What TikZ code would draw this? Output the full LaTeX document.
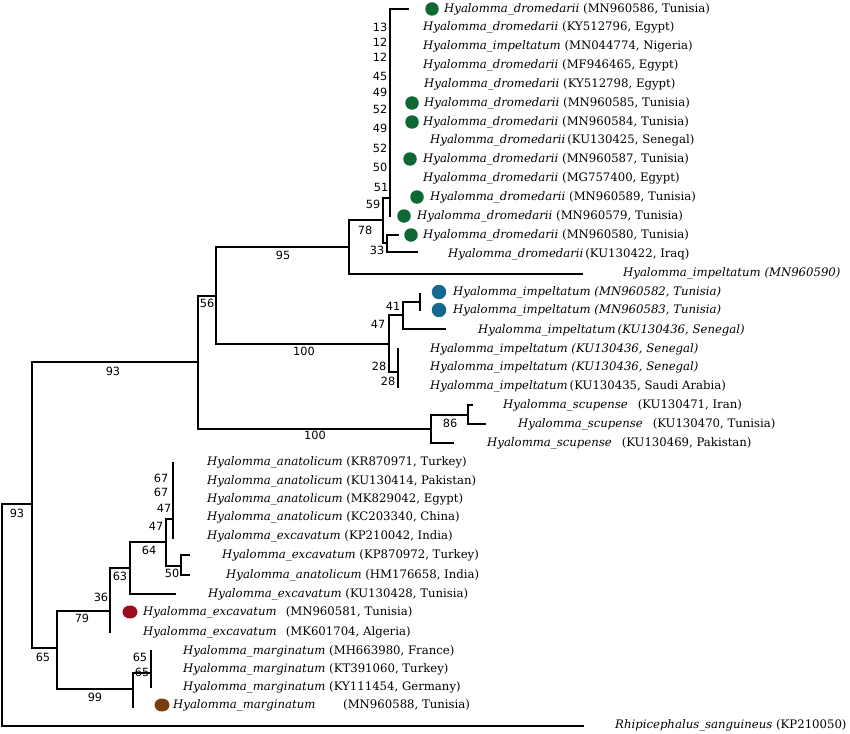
\documentclass[tikz,border=0pt]{standalone}
\usepackage{fontspec}
\setmainfont{DejaVu Serif}
\newfontfamily\numfont{DejaVu Sans}
\definecolor{dgreen}{RGB}{14,104,52}
\definecolor{dblue}{RGB}{22,104,143}
\definecolor{dred}{RGB}{155,12,30}
\definecolor{dbrown}{RGB}{120,62,14}
\tikzset{
  br/.style={line width=1.9pt, line join=miter, line cap=rect},
  leaf/.style={anchor=west, inner sep=0pt, font=\fontsize{11.7}{14}\selectfont},
  bs/.style={inner sep=0pt, font=\numfont\fontsize{11.3}{13}\selectfont},
  gdot/.style={fill=dgreen, circle, minimum size=13.5pt, inner sep=0pt},
  bdot/.style={fill=dblue, circle, minimum size=14.5pt, inner sep=0pt},
  edot/.style={ellipse, minimum width=15pt, minimum height=13pt, inner sep=0pt},
}
\usetikzlibrary{shapes.geometric}
\begin{document}
\begin{tikzpicture}[x=1pt,y=-1pt]
\useasboundingbox (0,0) rectangle (850,733);
% ---- tree coordinates
\coordinate (R) at (2,615);
\coordinate (A) at (32,504);
\coordinate (OG) at (583,726);
\coordinate (B) at (198,362);
\coordinate (L) at (57,648);
\coordinate (C) at (216,296);
\coordinate (S) at (431,429);
\coordinate (D) at (349,247);
\coordinate (I) at (389,344);
\coordinate (N59) at (383,220);
\coordinate (E15) at (582,274);
\coordinate (P) at (390,198);
\coordinate (N33) at (387,243);
\coordinate (E1) at (408,9);
\coordinate (E12) at (390,216);
\coordinate (E13) at (398,235);
\coordinate (E14) at (417,252);
\coordinate (N41) at (403,315);
\coordinate (N28) at (398,372);
\coordinate (P2) at (420,302);
\coordinate (E18) at (445,329);
\coordinate (E16) at (420,294);
\coordinate (E17) at (420,310);
\coordinate (E19) at (398,349);
\coordinate (E21) at (398,387);
\coordinate (N86) at (468,415);
\coordinate (E24) at (453,443);
\coordinate (E22) at (472,405);
\coordinate (E23) at (485,424);
\coordinate (N79) at (110,611);
\coordinate (M) at (133,689);
\coordinate (N63) at (130,568);
\coordinate (E34) at (110,632);
\coordinate (N64) at (166,542);
\coordinate (E32) at (175,594);
\coordinate (P3) at (173,519);
\coordinate (N50) at (181,566);
\coordinate (E25) at (173,463);
\coordinate (E29) at (173,538);
\coordinate (E30) at (189,555);
\coordinate (E31) at (189,575);
\coordinate (P4) at (151,673);
\coordinate (E38) at (133,707);
\coordinate (E35) at (151,651);
\coordinate (E37) at (151,687);
% ---- branches
\draw[br] (R) |- (A);   \draw[br] (R) |- (OG);
\draw[br] (A) |- (B);   \draw[br] (A) |- (L);
\draw[br] (B) |- (C);   \draw[br] (B) |- (S);
\draw[br] (C) |- (D);   \draw[br] (C) |- (I);
\draw[br] (D) |- (N59); \draw[br] (D) |- (E15);
\draw[br] (N59) |- (P); \draw[br] (N59) |- (N33);
\draw[br] (P) |- (E1);  \draw[br] (P) |- (E12);
\draw[br] (N33) |- (E13); \draw[br] (N33) |- (E14);
\draw[br] (I) |- (N41); \draw[br] (I) |- (N28);
\draw[br] (N41) |- (P2); \draw[br] (N41) |- (E18);
\draw[br] (P2) |- (E16); \draw[br] (P2) |- (E17);
\draw[br] (N28) |- (E19); \draw[br] (N28) |- (E21);
\draw[br] (S) |- (N86); \draw[br] (S) |- (E24);
\draw[br] (N86) |- (E22); \draw[br] (N86) |- (E23);
\draw[br] (L) |- (N79); \draw[br] (L) |- (M);
\draw[br] (N79) |- (N63); \draw[br] (N79) |- (E34);
\draw[br] (N63) |- (N64); \draw[br] (N63) |- (E32);
\draw[br] (N64) |- (P3); \draw[br] (N64) |- (N50);
\draw[br] (P3) |- (E25); \draw[br] (P3) |- (E29);
\draw[br] (N50) |- (E30); \draw[br] (N50) |- (E31);
\draw[br] (M) |- (P4); \draw[br] (M) |- (E38);
\draw[br] (P4) |- (E35); \draw[br] (P4) |- (E37);
% ---- dots
\node[gdot] (d1) at (432,9) {};
\node[gdot] (d6) at (412,103) {};
\node[gdot] (d7) at (412,122) {};
\node[gdot] (d9) at (410,159) {};
\node[gdot] (d11) at (417,197) {};
\node[gdot] (d12) at (404,216) {};
\node[gdot] (d13) at (411,235) {};
\node[bdot] (d16) at (439,292) {};
\node[bdot] (d17) at (439,310) {};
\node[edot, fill=dred] (d33) at (130,612) {};
\node[edot, fill=dbrown] (d38) at (162,705) {};
% ---- leaves
\node[leaf] (t1) at (444,9) {\textit{Hyalomma\_dromedarii} (MN960586, Tunisia)};
\node[leaf] (t2) at (423,27.5) {\textit{Hyalomma\_dromedarii} (KY512796, Egypt)};
\node[leaf] (t3) at (423,46) {\textit{Hyalomma\_impeltatum} (MN044774, Nigeria)};
\node[leaf] (t4) at (423,65) {\textit{Hyalomma\_dromedarii} (MF946465, Egypt)};
\node[leaf] (t5) at (424,84) {\textit{Hyalomma\_dromedarii} (KY512798, Egypt)};
\node[leaf] (t6) at (424,103) {\textit{Hyalomma\_dromedarii} (MN960585, Tunisia)};
\node[leaf] (t7) at (423,122) {\textit{Hyalomma\_dromedarii} (MN960584, Tunisia)};
\node[leaf] (t8) at (430,140) {\textit{Hyalomma\_dromedarii}\,(KU130425, Senegal)};
\node[leaf] (t9) at (423,159) {\textit{Hyalomma\_dromedarii} (MN960587, Tunisia)};
\node[leaf] (t10) at (423,178) {\textit{Hyalomma\_dromedarii} (MG757400, Egypt)};
\node[leaf] (t11) at (430,197) {\textit{Hyalomma\_dromedarii} (MN960589, Tunisia)};
\node[leaf] (t12) at (417,216) {\textit{Hyalomma\_dromedarii} (MN960579, Tunisia)};
\node[leaf] (t13) at (423,235) {\textit{Hyalomma\_dromedarii} (MN960580, Tunisia)};
\node[leaf] (t14) at (448,254) {\textit{Hyalomma\_dromedarii}\,(KU130422, Iraq)};
\node[leaf] (t15) at (623,273) {\textit{Hyalomma\_impeltatum (MN960590)}};
\node[leaf] (t16) at (453,292) {\textit{Hyalomma\_impeltatum (MN960582, Tunisia)}};
\node[leaf] (t17) at (453,310) {\textit{Hyalomma\_impeltatum (MN960583, Tunisia)}};
\node[leaf] (t18) at (478,330) {\textit{Hyalomma\_impeltatum\,(KU130436, Senegal)}};
\node[leaf] (t19) at (430,349) {\textit{Hyalomma\_impeltatum (KU130436, Senegal)}};
\node[leaf] (t20) at (430,367) {\textit{Hyalomma\_impeltatum (KU130436, Senegal)}};
\node[leaf] (t21) at (430,386) {\textit{Hyalomma\_impeltatum}\,(KU130435, Saudi Arabia)};
\node[leaf] (t22) at (503,405) {\textit{Hyalomma\_scupense}\hspace{10pt}(KU130471, Iran)};
\node[leaf] (t23) at (518,424) {\textit{Hyalomma\_scupense}\hspace{10pt}(KU130470, Tunisia)};
\node[leaf] (t24) at (487,443) {\textit{Hyalomma\_scupense}\hspace{10pt}(KU130469, Pakistan)};
\node[leaf] (t25) at (207,462) {\textit{Hyalomma\_anatolicum} (KR870971, Turkey)};
\node[leaf] (t26) at (207,481) {\textit{Hyalomma\_anatolicum} (KU130414, Pakistan)};
\node[leaf] (t27) at (207,499) {\textit{Hyalomma\_anatolicum} (MK829042, Egypt)};
\node[leaf] (t28) at (207,517) {\textit{Hyalomma\_anatolicum} (KC203340, China)};
\node[leaf] (t29) at (207,536) {\textit{Hyalomma\_excavatum} (KP210042, India)};
\node[leaf] (t30) at (222,555) {\textit{Hyalomma\_excavatum} (KP870972, Turkey)};
\node[leaf] (t31) at (226,575) {\textit{Hyalomma\_anatolicum} (HM176658, India)};
\node[leaf] (t32) at (208,594) {\textit{Hyalomma\_excavatum} (KU130428, Tunisia)};
\node[leaf] (t33) at (143,612) {\textit{Hyalomma\_excavatum}\hspace{9pt}(MN960581, Tunisia)};
\node[leaf] (t34) at (143,632) {\textit{Hyalomma\_excavatum}\hspace{9pt}(MK601704, Algeria)};
\node[leaf] (t35) at (183,651) {\textit{Hyalomma\_marginatum} (MH663980, France)};
\node[leaf] (t36) at (183,669) {\textit{Hyalomma\_marginatum} (KT391060, Turkey)};
\node[leaf] (t37) at (183,687) {\textit{Hyalomma\_marginatum} (KY111454, Germany)};
\node[leaf] (t38) at (173,705) {\textit{Hyalomma\_marginatum}};
\node[leaf] (t38b) at (343,705) {(MN960588, Tunisia)};
\node[leaf] (t39) at (615,725) {\textit{Rhipicephalus\_sanguineus} (KP210050)};
% ---- bootstrap values
\node[bs] (b1) at (380,27) {13};
\node[bs] (b2) at (380,42) {12};
\node[bs] (b3) at (380,57) {12};
\node[bs] (b4) at (380,76) {45};
\node[bs] (b5) at (380,92) {49};
\node[bs] (b6) at (380,109) {52};
\node[bs] (b7) at (380,128) {49};
\node[bs] (b8) at (380,148) {52};
\node[bs] (b9) at (380,167) {50};
\node[bs] (b10) at (381,187) {51};
\node[bs] (b11) at (373,204) {59};
\node[bs] (b12) at (365,230) {78};
\node[bs] (b13) at (377,250) {33};
\node[bs] (b14) at (283,255) {95};
\node[bs] (b15) at (207,303) {56};
\node[bs] (b16) at (393,306) {41};
\node[bs] (b17) at (378,324) {47};
\node[bs] (b18) at (304,351) {100};
\node[bs] (b19) at (379,366) {28};
\node[bs] (b20) at (388,381) {28};
\node[bs] (b21) at (113,371) {93};
\node[bs] (b22) at (450,423) {86};
\node[bs] (b23) at (315,435) {100};
\node[bs] (b24) at (161,478) {67};
\node[bs] (b25) at (161,492) {67};
\node[bs] (b26) at (164,508) {47};
\node[bs] (b27) at (156,526) {47};
\node[bs] (b28) at (149,550) {64};
\node[bs] (b29) at (172,573) {50};
\node[bs] (b30) at (120,576) {63};
\node[bs] (b31) at (101,597) {36};
\node[bs] (b32) at (82,618) {79};
\node[bs] (b33) at (17,513) {93};
\node[bs] (b34) at (43,657) {65};
\node[bs] (b35) at (140,657) {65};
\node[bs] (b36) at (142,672) {65};
\node[bs] (b37) at (95,697) {99};
\end{tikzpicture}
\end{document}
